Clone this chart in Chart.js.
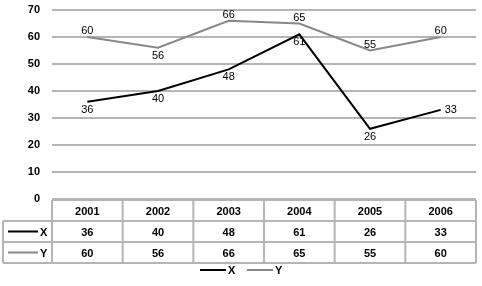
<!DOCTYPE html>
<html lang="en">
  <head>
    <meta charset="UTF-8" />
    <title>X and Y 2001-2006</title>
    <script src="https://cdn.jsdelivr.net/npm/chart.js@4"></script>
    <style>
      html, body { margin: 0; padding: 0; background: #fff; }
      #wrap { width: 482px; height: 286px; position: relative; }
    </style>
  </head>
  <body>
    <div id="wrap"><canvas id="myChart"></canvas></div>

    <script>
      const years = ['2001', '2002', '2003', '2004', '2005', '2006'];
      const xValues = [36, 40, 48, 61, 26, 33];
      const yValues = [60, 56, 66, 65, 55, 60];
      const yTicks = [0, 10, 20, 30, 40, 50, 60, 70];

      // where each value label sits relative to its point
      const xLabelPlace = ['below', 'below', 'below', 'below', 'below', 'right'];
      const yLabelPlace = ['above', 'below', 'above', 'above', 'above', 'above'];

      const FONT = '"Liberation Sans", Arial, sans-serif';
      const gridGrey = '#b5b5b5';

      // value labels next to points
      const valueLabels = {
        id: 'valueLabels',
        afterDatasetsDraw(chart) {
          const ctx = chart.ctx;
          ctx.save();
          ctx.font = '11px ' + FONT;
          ctx.fillStyle = '#000';
          chart.data.datasets.forEach((ds, di) => {
            const meta = chart.getDatasetMeta(di);
            const places = di === 0 ? xLabelPlace : yLabelPlace;
            meta.data.forEach((pt, i) => {
              let x = pt.x, y = pt.y;
              ctx.textAlign = 'center';
              ctx.textBaseline = 'middle';
              if (places[i] === 'above') y -= 6;
              else if (places[i] === 'below') y += 8;
              else { ctx.textAlign = 'left'; x += 4; }
              ctx.fillText(ds.data[i], x, y);
            });
          });
          ctx.restore();
        }
      };

      // data table + legend under the plot
      const dataTable = {
        id: 'dataTable',
        afterDraw(chart) {
          const ctx = chart.ctx;
          const area = chart.chartArea;
          const xs = chart.scales.x;
          const n = years.length;
          const left = 3;
          const top = area.bottom + 1;
          const rowH = 21;
          const bounds = [area.left];
          for (let i = 0; i < n - 1; i++) {
            bounds.push((xs.getPixelForValue(i) + xs.getPixelForValue(i + 1)) / 2);
          }
          bounds.push(area.right);

          ctx.save();
          ctx.strokeStyle = gridGrey;
          ctx.lineWidth = 2;
          // horizontal lines
          ctx.beginPath();
          ctx.moveTo(area.left, top); ctx.lineTo(area.right, top);
          for (let r = 1; r <= 3; r++) {
            ctx.moveTo(left, top + r * rowH); ctx.lineTo(area.right, top + r * rowH);
          }
          // vertical lines
          ctx.moveTo(left, top + rowH); ctx.lineTo(left, top + 3 * rowH);
          bounds.forEach(b => { ctx.moveTo(b, top); ctx.lineTo(b, top + 3 * rowH); });
          ctx.stroke();

          ctx.font = 'bold 11px ' + FONT;
          ctx.fillStyle = '#000';
          ctx.textAlign = 'center';
          ctx.textBaseline = 'middle';
          const rows = [years, xValues, yValues];
          rows.forEach((row, r) => {
            row.forEach((v, i) => {
              ctx.fillText(v, xs.getPixelForValue(i), top + r * rowH + rowH / 2 + 1);
            });
          });

          // series keys in the table
          const keys = [['X', '#000'], ['Y', '#888']];
          keys.forEach((k, j) => {
            const cy = top + (j + 1) * rowH + rowH / 2;
            ctx.strokeStyle = k[1];
            ctx.lineWidth = 2;
            ctx.beginPath(); ctx.moveTo(8, cy); ctx.lineTo(38, cy); ctx.stroke();
            ctx.textAlign = 'left';
            ctx.fillText(k[0], 40, cy + 1);
          });

          // legend at the bottom
          const ly = 270;
          const legend = [['X', '#000', 200], ['Y', '#888', 247]];
          legend.forEach(l => {
            ctx.strokeStyle = l[1];
            ctx.lineWidth = 2;
            ctx.beginPath(); ctx.moveTo(l[2], ly); ctx.lineTo(l[2] + 26, ly); ctx.stroke();
            ctx.textAlign = 'left';
            ctx.fillText(l[0], l[2] + 28, ly + 1);
          });
          ctx.restore();
        }
      };

      const ctx = document.getElementById('myChart').getContext('2d');
      const myChart = new Chart(ctx, {
        type: 'line',
        data: {
          labels: years,
          datasets: [
            {
              label: 'X',
              data: xValues,
              borderColor: '#000',
              borderWidth: 2,
              pointRadius: 0,
              fill: false,
              tension: 0
            },
            {
              label: 'Y',
              data: yValues,
              borderColor: '#888',
              borderWidth: 2,
              pointRadius: 0,
              fill: false,
              tension: 0
            }
          ]
        },
        options: {
          responsive: true,
          maintainAspectRatio: false,
          animation: false,
          events: [],
          layout: { padding: { left: 0, right: 6, top: 10, bottom: 87 } },
          plugins: {
            legend: { display: false },
            tooltip: { enabled: false }
          },
          scales: {
            x: {
              display: false,
              offset: true
            },
            y: {
              min: 0,
              max: 70,
              afterBuildTicks(axis) {
                axis.ticks = yTicks.map(v => ({ value: v }));
              },
              afterFit(axis) {
                axis.width = 52;
                axis.paddingTop = 0;
                axis.paddingBottom = 0;
              },
              border: { display: false },
              grid: { color: gridGrey, lineWidth: 2, drawTicks: false },
              ticks: {
                padding: 12,
                color: '#000',
                font: { family: FONT, size: 11, weight: 'bold' }
              }
            }
          }
        },
        plugins: [valueLabels, dataTable]
      });
    </script>
  </body>
</html>
